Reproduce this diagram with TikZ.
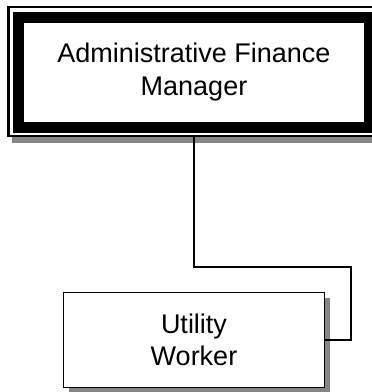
\documentclass[tikz,border=0pt]{standalone}
\usepackage{fontspec}
\setmainfont{Liberation Sans}
\usetikzlibrary{positioning,shadows}
\definecolor{shadowgray}{rgb}{0.52, 0.52, 0.52}
\tikzset{
  outerframe/.style={draw, line width=2.5pt, fill=white, minimum width=371pt, minimum height=129pt,
    drop shadow={fill=shadowgray, opacity=1, shadow xshift=3pt, shadow yshift=-7pt}},
  titlebox/.style={draw, line width=11pt, minimum width=351pt, minimum height=110pt, align=center,
    font=\fontsize{27}{33}\selectfont},
  unitbox/.style={draw, line width=1.5pt, fill=white, minimum width=261pt, minimum height=95pt, align=center,
    font=\fontsize{27}{32}\selectfont,
    drop shadow={fill=shadowgray, opacity=1, shadow xshift=5pt, shadow yshift=-5pt}},
  link/.style={draw, line width=1.5pt}
}

\begin{document}
\begin{tikzpicture}[x=1pt, y=1pt]
      \useasboundingbox (0,0) rectangle (372,-392);
      \clip (0,0) rectangle (372,-392);
      \node(mgrframe) [outerframe] at (194,-71.5) {};
      \node(mgr) [titlebox] at (194,-72.5) {Administrative Finance\\Manager};
      \node(util) [unitbox, below=154.5pt of mgrframe] {Utility\\Worker};
      \coordinate(turn) at (351,-267);

      \draw[link](mgrframe.south) |- (turn) |- (util.east);
    \end{tikzpicture}
\end{document}
